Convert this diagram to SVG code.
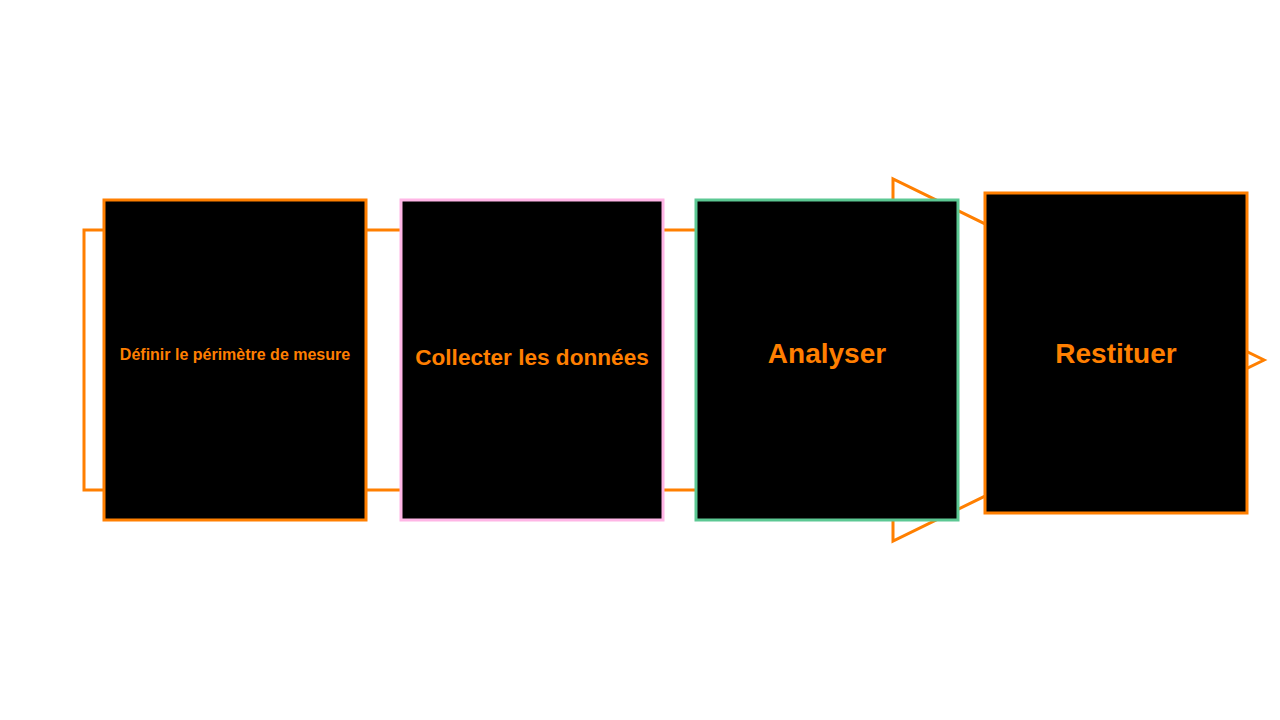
<svg xmlns="http://www.w3.org/2000/svg" width="1280" height="720" viewBox="0 0 1280 720">
<style>
.conn{fill:none;stroke:#FF7F00;stroke-width:3;stroke-linejoin:miter}
.box{fill:#000;stroke-width:3}
.lbl{font-family:"Liberation Sans",Arial,sans-serif;font-weight:bold;fill:#FF7F00;text-anchor:middle}
</style>
<rect width="1280" height="720" fill="#fff"/>
<g id="connectors">
<path class="conn" d="M84,230 H893 V179 L1264,360 L893,541 V490 H84 Z"/>
</g>
<g id="node1">
<rect class="box" x="104" y="200" width="262" height="320" stroke="#FF7F00"/>
<text class="lbl" x="235" y="360" font-size="16">Définir le périmètre de mesure</text>
</g>
<g id="node2">
<rect class="box" x="401" y="200" width="262" height="320" stroke="#FFB6E6"/>
<text class="lbl" x="532" y="365" font-size="22.6">Collecter les données</text>
</g>
<g id="node3">
<rect class="box" x="696" y="200" width="262" height="320" stroke="#5CC893"/>
<text class="lbl" x="827" y="363" font-size="28">Analyser</text>
</g>
<g id="node4">
<rect class="box" x="985" y="193" width="262" height="320" stroke="#FF7F00"/>
<text class="lbl" x="1116" y="363" font-size="28">Restituer</text>
</g>
</svg>
